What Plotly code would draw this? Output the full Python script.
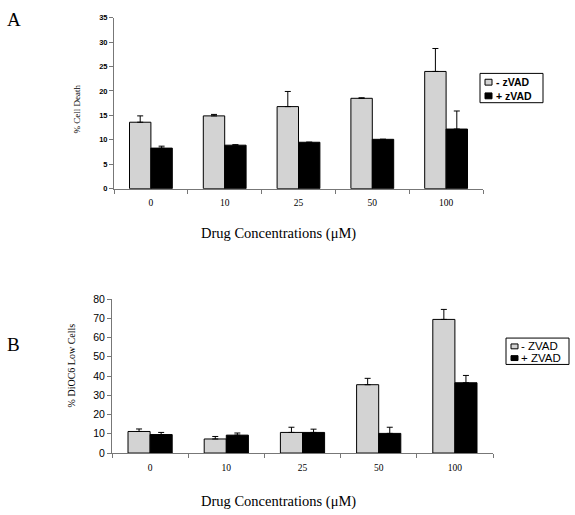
import plotly.graph_objects as go

categories = ["0", "10", "25", "50", "100"]

# Panel A: % Cell Death
a_minus = [13.6, 14.9, 16.8, 18.5, 24.0]
a_minus_err = [1.3, 0.3, 3.1, 0.1, 4.7]
a_plus = [8.3, 8.9, 9.5, 10.1, 12.2]
a_plus_err = [0.4, 0.1, 0.0, 0.0, 3.7]

# Panel B: % DiOC6 Low Cells
b_minus = [11.2, 7.3, 10.7, 35.5, 69.4]
b_minus_err = [1.3, 1.3, 2.7, 3.3, 5.2]
b_plus = [9.6, 9.3, 10.7, 10.2, 36.5]
b_plus_err = [1.1, 1.1, 1.7, 3.2, 3.8]

legend_a = ["- zVAD", "+ zVAD"]
legend_b = ["- ZVAD", "+ ZVAD"]

GRAY = "#d3d3d3"
SERIF = "Liberation Serif, Times New Roman, serif"
SANS = "Liberation Sans, Arial, sans-serif"

def err(vals):
    return dict(type="data", symmetric=False, array=vals, arrayminus=[0] * len(vals),
                color="black", thickness=1, width=3)

fig = go.Figure()
fig.add_trace(go.Bar(x=categories, y=a_minus, name=legend_a[0], error_y=err(a_minus_err),
                     marker=dict(color=GRAY, line=dict(color="black", width=1)),
                     xaxis="x", yaxis="y"))
fig.add_trace(go.Bar(x=categories, y=a_plus, name=legend_a[1], error_y=err(a_plus_err),
                     marker=dict(color="black", line=dict(color="black", width=1)),
                     xaxis="x", yaxis="y"))
fig.add_trace(go.Bar(x=categories, y=b_minus, name=legend_b[0], error_y=err(b_minus_err),
                     marker=dict(color=GRAY, line=dict(color="black", width=1)),
                     xaxis="x2", yaxis="y2"))
fig.add_trace(go.Bar(x=categories, y=b_plus, name=legend_b[1], error_y=err(b_plus_err),
                     marker=dict(color="black", line=dict(color="black", width=1)),
                     xaxis="x2", yaxis="y2"))

W, H = 575, 515
def px(x):
    return x / W
def py(y):
    return 1 - y / H

axis_common = dict(showline=True, linecolor="#777", linewidth=1, showgrid=False, zeroline=False,
                   ticks="outside", ticklen=4, tickcolor="#777")

shapes = []
annotations = []

def manual_legend(box, rows, names, text_x, font):
    x0, y0, x1, y1 = box
    shapes.append(dict(type="rect", xref="paper", yref="paper", x0=px(x0), x1=px(x1),
                       y0=py(y1), y1=py(y0), line=dict(color="black", width=1),
                       fillcolor="white", layer="above"))
    fills = [GRAY, "black"]
    for (sx0, sx1, cy, half), name, fill in zip(rows, names, fills):
        shapes.append(dict(type="rect", xref="paper", yref="paper", x0=px(sx0), x1=px(sx1),
                           y0=py(cy + half), y1=py(cy - half), line=dict(color="black", width=1),
                           fillcolor=fill, layer="above"))
        annotations.append(dict(text=name, x=px(text_x), y=py(cy), xref="paper", yref="paper",
                                xanchor="left", yanchor="middle", showarrow=False, font=font))

manual_legend((480, 69, 543, 99), [(485, 492, 78, 3), (485, 492, 92, 3)], legend_a, 494,
              dict(family=SANS, size=10.5, color="black", weight="bold"))
manual_legend((506, 340, 569, 367), [(511, 518, 348.5, 2.5), (511, 518, 360.5, 2.5)], legend_b, 519,
              dict(family=SANS, size=11.5, color="black"))

annotations += [
    dict(text="A", x=px(5), y=py(14), xref="paper", yref="paper", xanchor="left", yanchor="middle",
         showarrow=False, font=dict(family=SERIF, size=19, color="black")),
    dict(text="B", x=px(5), y=py(347), xref="paper", yref="paper", xanchor="left", yanchor="middle",
         showarrow=False, font=dict(family=SERIF, size=19, color="black")),
    dict(text="% Cell Death", x=px(77), y=py(105), xref="paper", yref="paper", textangle=-90,
         xanchor="center", yanchor="middle", showarrow=False,
         font=dict(family=SERIF, size=9, color="black")),
    dict(text="% DiOC6 Low Cells", x=px(71), y=py(368), xref="paper", yref="paper", textangle=-90,
         xanchor="center", yanchor="middle", showarrow=False,
         font=dict(family=SERIF, size=10, color="black")),
    dict(text="Drug Concentrations (μM)", x=px(278), y=py(233), xref="paper", yref="paper",
         xanchor="center", yanchor="middle", showarrow=False,
         font=dict(family=SERIF, size=14.5, color="black")),
    dict(text="Drug Concentrations (μM)", x=px(278), y=py(507), xref="paper", yref="paper",
         xanchor="center", yanchor="middle", showarrow=False,
         font=dict(family=SERIF, size=14.5, color="black")),
]

fig.update_layout(
    width=W, height=H, margin=dict(l=0, r=0, t=0, b=0),
    paper_bgcolor="white", plot_bgcolor="white",
    showlegend=False,
    barmode="group", bargap=0.42, bargroupgap=0,
    xaxis=dict(domain=[px(114), px(483)], anchor="y", tickson="boundaries", ticklabelstandoff=5,
               tickfont=dict(family=SERIF, size=9.5, color="black"), **axis_common),
    yaxis=dict(domain=[py(187), py(12)], anchor="x", range=[0, 35], dtick=5,
               tickfont=dict(family=SANS, size=7.5, color="black", weight="bold"), **axis_common),
    xaxis2=dict(domain=[px(112), px(493)], anchor="y2", tickson="boundaries", ticklabelstandoff=6,
                tickfont=dict(family=SERIF, size=9.5, color="black"), **axis_common),
    yaxis2=dict(domain=[py(457.7), py(300)], anchor="x2", range=[0, 80], dtick=10,
                tickfont=dict(family=SANS, size=10.5, color="black"), **axis_common),
    shapes=shapes,
    annotations=annotations,
)

fig.write_html("out.html", config={"displayModeBar": False},
               post_script="document.body.style.margin='0';document.body.style.overflow='hidden';")
